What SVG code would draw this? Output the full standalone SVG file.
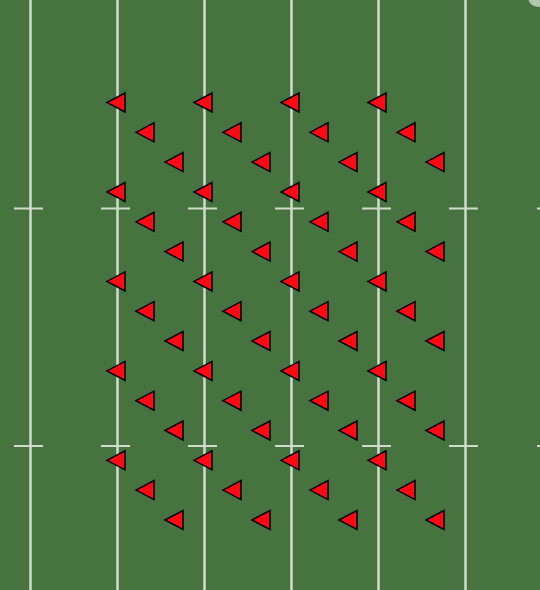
<svg xmlns="http://www.w3.org/2000/svg" xmlns:xlink="http://www.w3.org/1999/xlink" width="540" height="590" viewBox="0 0 540 590">
<style>
.line{stroke:#cfdccc;stroke-width:2.5;fill:none}
.tick{stroke:#cfdccc;stroke-width:2;fill:none}
.tri{fill:#ff0a14;stroke:#000;stroke-width:1.5;stroke-linejoin:miter}
</style>
<defs>
<path id="t" class="tri" d="M0,0 L18,-9.5 L18,9.5 Z"/>
</defs>
<rect width="540" height="590" fill="#477340"/>
<g id="field">
<line class="line" x1="30.5" y1="0" x2="30.5" y2="590"/>
<line class="line" x1="117.5" y1="0" x2="117.5" y2="590"/>
<line class="line" x1="204.5" y1="0" x2="204.5" y2="590"/>
<line class="line" x1="291.5" y1="0" x2="291.5" y2="590"/>
<line class="line" x1="378.5" y1="0" x2="378.5" y2="590"/>
<line class="line" x1="465.5" y1="0" x2="465.5" y2="590"/>
<path class="tick" d="M14,208.5H43M101,208.5H130M188,208.5H217M275,208.5H304M362,208.5H391M449,208.5H478M537,208.5H540M14,446H43M101,446H130M188,446H217M275,446H304M362,446H391M449,446H478M537,446H540"/>
<circle cx="538" cy="-3" r="10" fill="#b3c4b0"/>
</g>
<g id="markers">
<use href="#t" x="107" y="102.5"/><use href="#t" x="194" y="102.5"/><use href="#t" x="281" y="102.5"/><use href="#t" x="368" y="102.5"/>
<use href="#t" x="136" y="132.3"/><use href="#t" x="223" y="132.3"/><use href="#t" x="310" y="132.3"/><use href="#t" x="397" y="132.3"/>
<use href="#t" x="165" y="162.1"/><use href="#t" x="252" y="162.1"/><use href="#t" x="339" y="162.1"/><use href="#t" x="426" y="162.1"/>
<use href="#t" x="107" y="192"/><use href="#t" x="194" y="192"/><use href="#t" x="281" y="192"/><use href="#t" x="368" y="192"/>
<use href="#t" x="136" y="221.8"/><use href="#t" x="223" y="221.8"/><use href="#t" x="310" y="221.8"/><use href="#t" x="397" y="221.8"/>
<use href="#t" x="165" y="251.6"/><use href="#t" x="252" y="251.6"/><use href="#t" x="339" y="251.6"/><use href="#t" x="426" y="251.6"/>
<use href="#t" x="107" y="281.4"/><use href="#t" x="194" y="281.4"/><use href="#t" x="281" y="281.4"/><use href="#t" x="368" y="281.4"/>
<use href="#t" x="136" y="311.2"/><use href="#t" x="223" y="311.2"/><use href="#t" x="310" y="311.2"/><use href="#t" x="397" y="311.2"/>
<use href="#t" x="165" y="341"/><use href="#t" x="252" y="341"/><use href="#t" x="339" y="341"/><use href="#t" x="426" y="341"/>
<use href="#t" x="107" y="370.9"/><use href="#t" x="194" y="370.9"/><use href="#t" x="281" y="370.9"/><use href="#t" x="368" y="370.9"/>
<use href="#t" x="136" y="400.7"/><use href="#t" x="223" y="400.7"/><use href="#t" x="310" y="400.7"/><use href="#t" x="397" y="400.7"/>
<use href="#t" x="165" y="430.5"/><use href="#t" x="252" y="430.5"/><use href="#t" x="339" y="430.5"/><use href="#t" x="426" y="430.5"/>
<use href="#t" x="107" y="460.3"/><use href="#t" x="194" y="460.3"/><use href="#t" x="281" y="460.3"/><use href="#t" x="368" y="460.3"/>
<use href="#t" x="136" y="490.1"/><use href="#t" x="223" y="490.1"/><use href="#t" x="310" y="490.1"/><use href="#t" x="397" y="490.1"/>
<use href="#t" x="165" y="520"/><use href="#t" x="252" y="520"/><use href="#t" x="339" y="520"/><use href="#t" x="426" y="520"/>
</g>
</svg>
